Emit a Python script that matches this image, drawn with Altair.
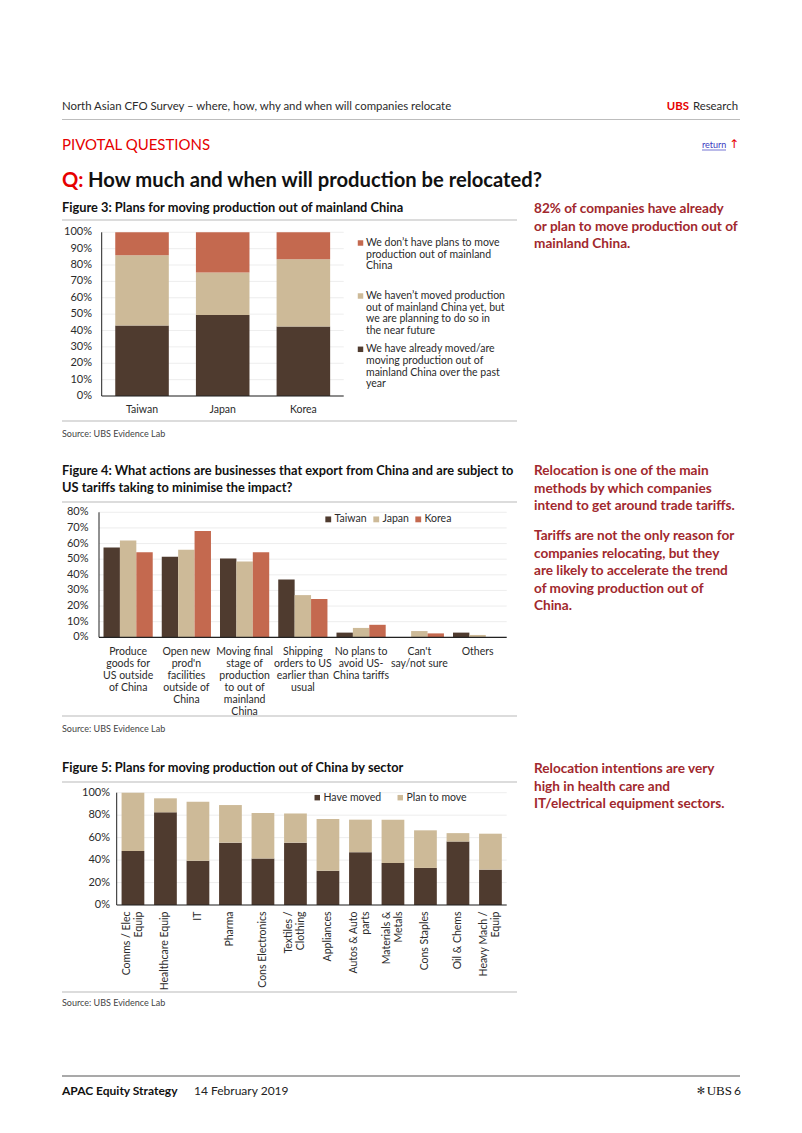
import altair as alt
import pandas as pd

FONT = "Lato"
RED = "#E60000"
SIDE = "#A1282D"
DARK = "#4F3B2F"
TAN = "#CDBA98"
SALMON = "#C4694F"
TXT = "#2B2B2B"
GRID = "#E8E8E8"
SEP = "#D0D0D0"

# ---------------- Figure 3 data ----------------
fig3_countries = ["Taiwan", "Japan", "Korea"]
fig3_series = ["moved", "plan", "noplan"]
fig3_moved = [43, 49.5, 42.5]
fig3_plan = [43, 26, 41]
fig3_noplan = [14, 24.5, 16.5]
fig3_ticks = [0, 10, 20, 30, 40, 50, 60, 70, 80, 90, 100]
fig3_tick_labels = ["0%", "10%", "20%", "30%", "40%", "50%", "60%", "70%", "80%", "90%", "100%"]
fig3_legend_noplan = ["We don\u2019t have plans to move", "production out of mainland", "China"]
fig3_legend_plan = ["We haven\u2019t moved production", "out of mainland China yet, but",
                    "we are planning to do so in", "the near future"]
fig3_legend_moved = ["We have already moved/are", "moving production out of",
                     "mainland China over the past", "year"]

# ---------------- Figure 4 data ----------------
fig4_actions = ["Produce\ngoods for\nUS outside\nof China",
                "Open new\nprod'n\nfacilities\noutside of\nChina",
                "Moving final\nstage of\nproduction\nto out of\nmainland\nChina",
                "Shipping\norders to US\nearlier than\nusual",
                "No plans to\navoid US-\nChina tariffs",
                "Can't\nsay/not sure",
                "Others"]
fig4_countries = ["Taiwan", "Japan", "Korea"]
fig4_taiwan = [57.5, 51.5, 50.5, 37, 3, 0, 3]
fig4_japan = [62, 56, 48.5, 27, 6, 4, 1.5]
fig4_korea = [54.5, 68, 54.5, 24.5, 8, 2.5, 0]
fig4_ticks = [0, 10, 20, 30, 40, 50, 60, 70, 80]
fig4_tick_labels = ["0%", "10%", "20%", "30%", "40%", "50%", "60%", "70%", "80%"]

# ---------------- Figure 5 data ----------------
fig5_sectors = ["Comms / Elec\nEquip", "Healthcare Equip", "IT", "Pharma", "Cons Electronics",
                "Textiles /\nClothing", "Appliances", "Autos & Auto\nparts", "Materials &\nMetals",
                "Cons Staples", "Oil & Chems", "Heavy Mach /\nEquip"]
fig5_series = ["Have moved", "Plan to move"]
fig5_moved = [48, 82.5, 39.5, 55.5, 41.5, 55.5, 30.5, 47, 37.5, 33, 56.5, 31.5]
fig5_plan = [52, 12.5, 52.5, 33.5, 40.5, 26, 46, 29, 38.5, 33.5, 7.5, 32]
fig5_ticks = [0, 20, 40, 60, 80, 100]
fig5_tick_labels = ["0%", "20%", "40%", "60%", "80%", "100%"]

# ---------------- page texts ----------------
header_text = "North Asian CFO Survey \u2013 where, how, why and when will companies relocate"
section_text = "PIVOTAL QUESTIONS"
question_text = "How much and when will production be relocated?"
fig3_title = "Figure 3: Plans for moving production out of mainland China"
fig4_title = ["Figure 4: What actions are businesses that export from China and are subject to",
              "US tariffs taking to minimise the impact?"]
fig5_title = "Figure 5: Plans for moving production out of China by sector"
source_text = "Source:  UBS Evidence Lab"
side1 = ["82% of companies have already", "or plan to move production out of", "mainland China."]
side2 = ["Relocation is one of the main", "methods by which companies", "intend to get around trade tariffs."]
side3 = ["Tariffs are not the only reason for", "companies relocating, but they",
         "are likely to accelerate the trend", "of moving production out of", "China."]
side4 = ["Relocation intentions are very", "high in health care and", "IT/electrical equipment sectors."]

dummy = pd.DataFrame({"d": [0]})
O = 8  # page margin


def txt(text, x, y, size, color=TXT, weight="normal", align="left", baseline="middle",
        font=FONT, lh=None):
    props = dict(text=text, fontSize=size, color=color, fontWeight=weight, align=align,
                 baseline=baseline, font=font)
    if lh is not None:
        props["lineHeight"] = lh
    return alt.Chart(dummy).mark_text(**props).encode(x=alt.value(x - O), y=alt.value(y - O))


def hrule(x1, x2, y, color=SEP, w=1.5):
    return alt.Chart(dummy).mark_rule(color=color, strokeWidth=w).encode(
        x=alt.value(x1 - O), x2=alt.value(x2 - O), y=alt.value(y - O))


FT = 12.8  # figure title size
ST = 13.6  # side text size

page = [
    txt(header_text, 62, 107, 11.4),
    txt("UBS", 689, 107, 11.4, color=RED, weight="bold", align="right"),
    txt("Research", 738, 107, 11.4, align="right"),
    hrule(62, 740, 119.5, color="#BDBDBD", w=1),
    txt(section_text, 62, 145, 15, color=RED),
    txt("return", 702, 145, 9, color="#3A3ABF"),
    hrule(702, 726, 150, color="#3A3ABF", w=0.7),
    txt("\u2191", 734, 144, 12, color=RED, font="DejaVu Sans", align="center"),
    txt("Q:", 62, 180.5, 20.2, color=RED, weight="bold"),
    txt(question_text, 88, 180.5, 20.2, color="#111111", weight="bold"),
    # figure 3 frame
    txt(fig3_title, 62, 207.5, FT, color="#111111", weight="bold"),
    hrule(62, 517, 220),
    hrule(62, 517, 421),
    txt(source_text, 62, 434, 9, color="#444444"),
    # figure 4 frame
    txt(fig4_title, 62, 470.5, FT, color="#111111", weight="bold", lh=17),
    hrule(62, 517, 502),
    hrule(62, 517, 716),
    txt(source_text, 62, 729, 9, color="#444444"),
    # figure 5 frame
    txt(fig5_title, 62, 767.5, FT, color="#111111", weight="bold"),
    hrule(62, 517, 782),
    hrule(62, 517, 992),
    txt(source_text, 62, 1003, 9, color="#444444"),
    # side comments
    txt(side1, 534, 209, ST, color=SIDE, weight="bold", lh=17.5),
    txt(side2, 534, 471, ST, color=SIDE, weight="bold", lh=17.5),
    txt(side3, 534, 536, ST, color=SIDE, weight="bold", lh=17.5),
    txt(side4, 534, 769, ST, color=SIDE, weight="bold", lh=17.5),
    # footer
    hrule(62, 740, 1076, color="#555555", w=1.2),
    txt("APAC Equity Strategy", 62, 1091, 12, color="#111111", weight="bold"),
    txt("14 February 2019", 194, 1091, 12, color="#222222"),
    txt("\u273B", 701, 1091, 10, color="#333333", font="DejaVu Sans", align="center"),
    txt("UBS", 732, 1091, 13, color="#111111", font="Liberation Serif", align="right"),
    txt("6", 741, 1091, 12, color="#222222", align="right"),
]

# ---------------- Figure 3 ----------------
rows3 = []
for i, c in enumerate(fig3_countries):
    rows3.append({"country": c, "series": "moved", "rank": 0, "value": fig3_moved[i]})
    rows3.append({"country": c, "series": "plan", "rank": 1, "value": fig3_plan[i]})
    rows3.append({"country": c, "series": "noplan", "rank": 2, "value": fig3_noplan[i]})
df3 = pd.DataFrame(rows3)
ticks3 = pd.DataFrame({"tick": fig3_ticks, "label": fig3_tick_labels})

X3L, X3R = 101.7 - O, 343.7 - O
x3 = alt.X("country:N", sort=fig3_countries, axis=None,
           scale=alt.Scale(domain=fig3_countries, range=[X3L, X3R], paddingInner=0.336, paddingOuter=0.168))
y3s = alt.Scale(domain=[0, 100], range=[396 - O, 232.3 - O], nice=False)

grid3 = alt.Chart(ticks3).mark_rule(color=GRID, strokeWidth=0.8).encode(
    y=alt.Y("tick:Q", scale=y3s, axis=None), x=alt.value(X3L), x2=alt.value(X3R))
bars3 = alt.Chart(df3).mark_bar().encode(
    x=x3,
    y=alt.Y("value:Q", stack="zero", scale=y3s, axis=None),
    color=alt.Color("series:N", scale=alt.Scale(domain=fig3_series, range=[DARK, TAN, SALMON]), legend=None),
    order=alt.Order("rank:Q", sort="ascending"),
)
ylab3 = alt.Chart(ticks3).mark_text(align="right", baseline="middle", fontSize=11, font=FONT, color=TXT).encode(
    y=alt.Y("tick:Q", scale=y3s, axis=None), x=alt.value(92 - O), text="label:N")
xlab3 = alt.Chart(pd.DataFrame({"country": fig3_countries})).mark_text(
    align="center", baseline="middle", fontSize=10.5, font=FONT, color=TXT).encode(
    x=x3, y=alt.value(410 - O), text="country:N")
yaxis3 = alt.Chart(dummy).mark_rule(color="#222222", strokeWidth=1).encode(
    x=alt.value(X3L), y=alt.YDatum(0, scale=y3s, axis=None), y2=alt.Y2Datum(100))
xaxis3 = alt.Chart(dummy).mark_rule(color="#222222", strokeWidth=1.2).encode(
    y=alt.YDatum(0, scale=y3s, axis=None), x=alt.value(X3L), x2=alt.value(X3R))


def sq(x, y, color):
    return alt.Chart(dummy).mark_square(size=30, color=color, opacity=1).encode(
        x=alt.value(x - O), y=alt.value(y - O))


leg3 = [
    sq(360.5, 243, SALMON), txt(fig3_legend_noplan, 366, 243, 10.5, lh=11.7),
    sq(360.5, 296, TAN), txt(fig3_legend_plan, 366, 296, 10.5, lh=11.7),
    sq(360.5, 349.3, DARK), txt(fig3_legend_moved, 366, 349.3, 10.5, lh=11.7),
]
fig3 = alt.layer(grid3, bars3, yaxis3, xaxis3, ylab3, xlab3, *leg3)

# ---------------- Figure 4 ----------------
rows4 = []
for i, a in enumerate(fig4_actions):
    rows4.append({"action": a, "country": "Taiwan", "value": fig4_taiwan[i]})
    rows4.append({"action": a, "country": "Japan", "value": fig4_japan[i]})
    rows4.append({"action": a, "country": "Korea", "value": fig4_korea[i]})
df4 = pd.DataFrame(rows4)
ticks4 = pd.DataFrame({"tick": fig4_ticks, "label": fig4_tick_labels})

X4L, X4R = 99 - O, 506.7 - O
x4 = alt.X("action:N", sort=fig4_actions, axis=None,
           scale=alt.Scale(domain=fig4_actions, range=[X4L, X4R], paddingInner=0.155, paddingOuter=0.0775))
y4s = alt.Scale(domain=[0, 80], range=[637.3 - O, 512.3 - O], nice=False)

grid4 = alt.Chart(ticks4).mark_rule(color=GRID, strokeWidth=0.8).encode(
    y=alt.Y("tick:Q", scale=y4s, axis=None), x=alt.value(X4L), x2=alt.value(X4R))
bars4 = alt.Chart(df4).mark_bar().encode(
    x=x4,
    xOffset=alt.XOffset("country:N", sort=fig4_countries,
                        scale=alt.Scale(domain=fig4_countries, paddingInner=0, paddingOuter=0)),
    y=alt.Y("value:Q", scale=y4s, axis=None),
    color=alt.Color("country:N", title=None,
                    scale=alt.Scale(domain=fig4_countries, range=[DARK, TAN, SALMON]),
                    legend=alt.Legend(orient="none", legendX=323 - O, legendY=520 - O - 6,
                                      direction="horizontal", symbolType="square", symbolSize=34,
                                      symbolStrokeWidth=0, labelFont=FONT, labelFontSize=10.5,
                                      labelColor=TXT, labelOffset=1, columnPadding=4, padding=0)),
)
ylab4 = alt.Chart(ticks4).mark_text(align="right", baseline="middle", fontSize=11, font=FONT, color=TXT).encode(
    y=alt.Y("tick:Q", scale=y4s, axis=None), x=alt.value(88.5 - O), text="label:N")
xlab4 = alt.Chart(pd.DataFrame({"action": fig4_actions})).mark_text(
    align="center", baseline="alphabetic", lineBreak="\n", lineHeight=12, fontSize=10.5,
    font=FONT, color=TXT).encode(x=x4, y=alt.value(654.5 - O), text="action:N")
yaxis4 = alt.Chart(dummy).mark_rule(color="#222222", strokeWidth=1).encode(
    x=alt.value(X4L), y=alt.YDatum(0, scale=y4s, axis=None), y2=alt.Y2Datum(80))
xaxis4 = alt.Chart(dummy).mark_rule(color="#222222", strokeWidth=1.2).encode(
    y=alt.YDatum(0, scale=y4s, axis=None), x=alt.value(X4L), x2=alt.value(X4R))
fig4 = alt.layer(grid4, bars4, yaxis4, xaxis4, ylab4, xlab4)

# ---------------- Figure 5 ----------------
rows5 = []
for i, s in enumerate(fig5_sectors):
    rows5.append({"sector": s, "series": "Have moved", "rank": 0, "value": fig5_moved[i]})
    rows5.append({"sector": s, "series": "Plan to move", "rank": 1, "value": fig5_plan[i]})
df5 = pd.DataFrame(rows5)
ticks5 = pd.DataFrame({"tick": fig5_ticks, "label": fig5_tick_labels})
labels5 = pd.DataFrame({"sector": fig5_sectors,
                        "nlines": [s.count("\n") + 1 for s in fig5_sectors]})

X5L, X5R = 116.7 - O, 506.7 - O
x5 = alt.X("sector:N", sort=fig5_sectors, axis=None,
           scale=alt.Scale(domain=fig5_sectors, range=[X5L, X5R], paddingInner=0.3, paddingOuter=0.15))
y5s = alt.Scale(domain=[0, 100], range=[905 - O, 792.7 - O], nice=False)

grid5 = alt.Chart(ticks5).mark_rule(color=GRID, strokeWidth=0.8).encode(
    y=alt.Y("tick:Q", scale=y5s, axis=None), x=alt.value(X5L), x2=alt.value(X5R))
bars5 = alt.Chart(df5).mark_bar().encode(
    x=x5,
    y=alt.Y("value:Q", stack="zero", scale=y5s, axis=None),
    color=alt.Color("series:N", title=None,
                    scale=alt.Scale(domain=fig5_series, range=[DARK, TAN]),
                    legend=alt.Legend(orient="none", legendX=312 - O, legendY=798.3 - O - 6,
                                      direction="horizontal", symbolType="square", symbolSize=30,
                                      symbolStrokeWidth=0, labelFont=FONT, labelFontSize=10.5,
                                      labelColor=TXT, labelOffset=1, columnPadding=13, padding=0)),
    order=alt.Order("rank:Q", sort="ascending"),
)
ylab5 = alt.Chart(ticks5).mark_text(align="right", baseline="middle", fontSize=11, font=FONT, color=TXT).encode(
    y=alt.Y("tick:Q", scale=y5s, axis=None), x=alt.value(110 - O), text="label:N")
lab5_style = dict(align="right", baseline="middle", angle=270, lineBreak="\n", lineHeight=12,
                  fontSize=10.5, font=FONT, color=TXT)
xlab5a = alt.Chart(labels5).transform_filter("datum.nlines == 1").mark_text(**lab5_style).encode(
    x=x5, y=alt.value(911.5 - O), text="sector:N")
xlab5b = alt.Chart(labels5).transform_filter("datum.nlines == 2").mark_text(dy=-6, **lab5_style).encode(
    x=x5, y=alt.value(911.5 - O), text="sector:N")
yaxis5 = alt.Chart(dummy).mark_rule(color="#222222", strokeWidth=1).encode(
    x=alt.value(X5L), y=alt.YDatum(0, scale=y5s, axis=None), y2=alt.Y2Datum(100))
xaxis5 = alt.Chart(dummy).mark_rule(color="#222222", strokeWidth=1.2).encode(
    y=alt.YDatum(0, scale=y5s, axis=None), x=alt.value(X5L), x2=alt.value(X5R))
fig5 = alt.layer(grid5, bars5, yaxis5, xaxis5, ylab5, xlab5a, xlab5b)

chart = alt.layer(*page, fig3, fig4, fig5).resolve_scale(
    x="independent", y="independent", color="independent", xOffset="independent"
).resolve_legend(color="independent").properties(
    width=786, height=1117, autosize=alt.AutoSizeParams(type="none"), padding=0
).configure(font=FONT).configure_view(stroke=None)

chart.save("out.html", embed_options={"renderer": "svg", "actions": False})
